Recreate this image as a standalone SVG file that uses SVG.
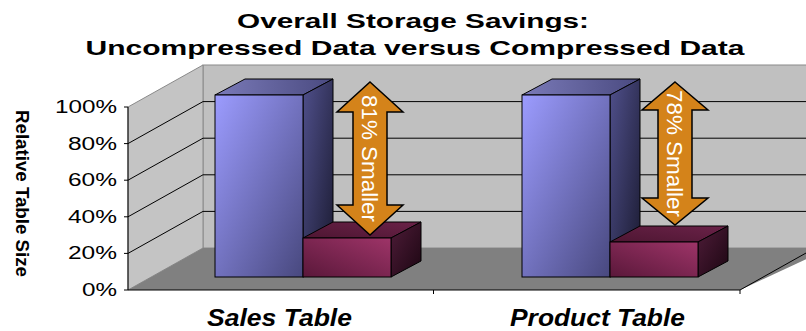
<svg xmlns="http://www.w3.org/2000/svg" width="806" height="331" viewBox="0 0 806 331">
<defs>
<linearGradient id="bF" x1="0" y1="0" x2="1" y2="1"><stop offset="0" stop-color="#9c9cff"/><stop offset="1" stop-color="#48487e"/></linearGradient>
<linearGradient id="bS" x1="0" y1="0" x2="1" y2="1"><stop offset="0" stop-color="#50508c"/><stop offset="1" stop-color="#1a1a30"/></linearGradient>
<linearGradient id="bT" x1="0" y1="0" x2="1" y2="0"><stop offset="0" stop-color="#7a7ab8"/><stop offset="1" stop-color="#4a4a80"/></linearGradient>
<linearGradient id="rF" x1="0" y1="1" x2="1" y2="0"><stop offset="0" stop-color="#5a183a"/><stop offset="1" stop-color="#9e3468"/></linearGradient>
<linearGradient id="rS" x1="0" y1="0" x2="1" y2="1"><stop offset="0" stop-color="#4e1c38"/><stop offset="1" stop-color="#1c0612"/></linearGradient>
<linearGradient id="rT" x1="0" y1="1" x2="1" y2="0"><stop offset="0" stop-color="#4e1632"/><stop offset="1" stop-color="#6a2248"/></linearGradient>
</defs>
<style>
.t{font-family:"Liberation Sans",Arial,sans-serif;fill:#000}
.ti{font-weight:bold;font-size:21px}
.ax{font-size:18px;text-anchor:end}
.cat{font-weight:bold;font-style:italic;font-size:23px;text-anchor:middle}
.g{stroke:#000;stroke-width:1;fill:none}
.e{stroke:#000;stroke-width:1}
.arr{fill:#d4831a;stroke:#000;stroke-width:1.5;stroke-linejoin:miter}
.at{font-family:"Liberation Sans",Arial,sans-serif;font-size:22px;fill:#fff;text-anchor:middle}
</style>
<g id="title">
<text class="t ti" x="413" y="28" text-anchor="middle" textLength="352" lengthAdjust="spacingAndGlyphs">Overall Storage Savings:</text>
<text class="t ti" x="415" y="55" text-anchor="middle" textLength="659" lengthAdjust="spacingAndGlyphs">Uncompressed Data versus Compressed Data</text>
</g>
<g id="plot">
<rect x="203" y="65" width="620" height="183" fill="#c0c0c0" stroke="#8a8a8a" stroke-width="1"/>
<polygon points="128,107 203,65 203,248 128,290" fill="#c4c4c4" stroke="#8a8a8a" stroke-width="1"/>
<polygon points="128,290 203,248 830,248 740,290" fill="#808080"/>
<g class="g">
<line x1="203" y1="211.4" x2="806" y2="211.4"/>
<line x1="203" y1="174.8" x2="806" y2="174.8"/>
<line x1="203" y1="138.2" x2="806" y2="138.2"/>
<line x1="203" y1="101.6" x2="806" y2="101.6"/>
<line x1="128" y1="253.4" x2="203" y2="211.4"/>
<line x1="128" y1="216.8" x2="203" y2="174.8"/>
<line x1="128" y1="180.2" x2="203" y2="138.2"/>
<line x1="128" y1="143.6" x2="203" y2="101.6"/>
<line x1="128" y1="107" x2="128" y2="290"/>
<line x1="128" y1="290" x2="740" y2="290"/>
<line x1="740" y1="290" x2="815" y2="248"/>
<line x1="124" y1="290" x2="128" y2="290"/>
<line x1="124" y1="253.4" x2="128" y2="253.4"/>
<line x1="124" y1="216.8" x2="128" y2="216.8"/>
<line x1="124" y1="180.2" x2="128" y2="180.2"/>
<line x1="124" y1="143.6" x2="128" y2="143.6"/>
<line x1="124" y1="107" x2="128" y2="107"/>
<line x1="433.5" y1="290" x2="433.5" y2="294"/>
<line x1="740" y1="290" x2="740" y2="294"/>
</g>
<text class="t ax" x="117" y="296" textLength="35" lengthAdjust="spacingAndGlyphs">0%</text>
<text class="t ax" x="117" y="259.4" textLength="49" lengthAdjust="spacingAndGlyphs">20%</text>
<text class="t ax" x="117" y="222.8" textLength="49" lengthAdjust="spacingAndGlyphs">40%</text>
<text class="t ax" x="117" y="186.2" textLength="49" lengthAdjust="spacingAndGlyphs">60%</text>
<text class="t ax" x="117" y="149.6" textLength="49" lengthAdjust="spacingAndGlyphs">80%</text>
<text class="t ax" x="117" y="113" textLength="62" lengthAdjust="spacingAndGlyphs">100%</text>
<text class="t" font-weight="bold" font-size="19" text-anchor="middle" transform="translate(22.5,193.5) rotate(90)" x="0" y="6.8" textLength="167" lengthAdjust="spacingAndGlyphs">Relative Table Size</text>
</g>
<g id="sales-uncompressed">
<polygon class="e" points="215,95 245,79 333,79 303,95" fill="url(#bT)"/>
<polygon class="e" points="303,95 333,79 333,261 303,277" fill="url(#bS)"/>
<rect class="e" x="215" y="95" width="88" height="182" fill="url(#bF)"/>
</g>
<g id="sales-compressed">
<polygon class="e" points="303,238 333,222 421,222 391,238" fill="url(#rT)"/>
<polygon class="e" points="391,238 421,222 421,261 391,277" fill="url(#rS)"/>
<rect class="e" x="303" y="238" width="88" height="39" fill="url(#rF)"/>
</g>
<g id="product-uncompressed">
<polygon class="e" points="522,95 552,79 640,79 610,95" fill="url(#bT)"/>
<polygon class="e" points="610,95 640,79 640,261 610,277" fill="url(#bS)"/>
<rect class="e" x="522" y="95" width="88" height="182" fill="url(#bF)"/>
</g>
<g id="product-compressed">
<polygon class="e" points="610,242 640,226 728,226 698,242" fill="url(#rT)"/>
<polygon class="e" points="698,242 728,226 728,261 698,277" fill="url(#rS)"/>
<rect class="e" x="610" y="242" width="88" height="35" fill="url(#rF)"/>
</g>
<g id="sales-arrow">
<polygon class="arr" points="370,82 403,112 387,112 387,205 403,205 370,235 337,205 353,205 353,112 337,112"/>
<text class="at" transform="translate(370,158.5) rotate(90)" x="0" y="7.8" textLength="127" lengthAdjust="spacingAndGlyphs">81%  Smaller</text>
</g>
<g id="product-arrow">
<polygon class="arr" points="675,82 708,110 692,110 692,198 708,198 675,225 642,198 658,198 658,110 642,110"/>
<text class="at" transform="translate(675,153.5) rotate(90)" x="0" y="7.8" textLength="127" lengthAdjust="spacingAndGlyphs">78%  Smaller</text>
</g>
<g id="labels">
<text class="t cat" x="279.5" y="326" textLength="145" lengthAdjust="spacingAndGlyphs">Sales Table</text>
<text class="t cat" x="597.5" y="326" textLength="175" lengthAdjust="spacingAndGlyphs">Product Table</text>
</g>
</svg>
